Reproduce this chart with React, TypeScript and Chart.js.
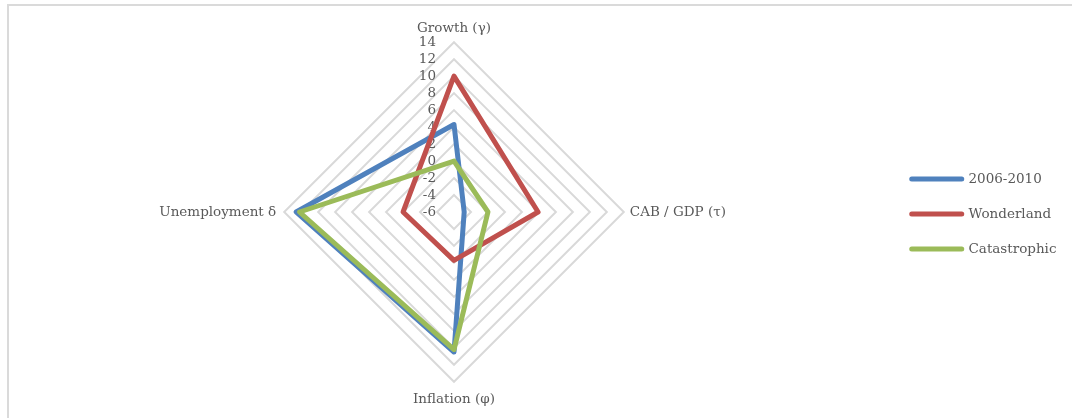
import React, { useEffect, useRef } from 'react';
import { Chart, registerables } from 'chart.js';

Chart.register(...registerables);

// ---- data ----
const categories = ['Growth (γ)', 'CAB / GDP (τ)', 'Inflation (φ)', 'Unemployment δ'];
const seriesNames = ['2006-2010', 'Wonderland', 'Catastrophic'];
const values2006 = [4.3, -4.8, 10.5, 12.6];
const valuesWonderland = [10, 3.9, -0.3, 0];
const valuesCatastrophic = [0, -2, 10.2, 12.2];
const seriesColors = ['#4F81BD', '#C0504D', '#9BBB59'];
const scaleMin = -6;
const scaleMax = 14;
const scaleStep = 2;

const FONT = "'DejaVu Serif', serif";
const TEXT = '#595959';
const FONT_SIZE = 13.5;

const tickLabelPlugin = {
  id: 'tickLabelsLeft',
  beforeDatasetsDraw(chart: any) {
    const s = chart.scales.r;
    const ctx = chart.ctx;
    ctx.save();
    ctx.font = `${FONT_SIZE}px ${FONT}`;
    ctx.fillStyle = TEXT;
    ctx.textAlign = 'right';
    ctx.textBaseline = 'middle';
    s.ticks.forEach((t: any) => {
      const d = s.getDistanceFromCenterForValue(t.value);
      ctx.fillText(String(t.label), s.xCenter - 18, s.yCenter - d);
    });
    ctx.restore();
  },
};

export default function App() {
  const ref = useRef<HTMLCanvasElement>(null);
  useEffect(() => {
    const allValues = [values2006, valuesWonderland, valuesCatastrophic];
    const chart = new Chart(ref.current as HTMLCanvasElement, {
      type: 'radar',
      data: {
        labels: categories,
        datasets: seriesNames.map((name, i) => ({
          label: name,
          data: allValues[i],
          borderColor: seriesColors[i],
          backgroundColor: 'transparent',
          borderWidth: 5,
          fill: false,
          pointRadius: 0,
          pointHoverRadius: 0,
          borderJoinStyle: 'round',
          order: 2 - i,
        })),
      },
      options: {
        animation: false,
        responsive: false,
        layout: { padding: { top: 18, bottom: 8, left: 19, right: 5.5 } },
        plugins: {
          legend: {
            position: 'right',
            align: 'center',
            labels: {
              font: { family: FONT, size: FONT_SIZE },
              color: TEXT,
              usePointStyle: true,
              pointStyle: 'line',
              pointStyleWidth: 50,
              padding: 21.5,
              generateLabels: (c: any) =>
                c.data.datasets.map((ds: any, i: number) => ({
                  text: ds.label,
                  fillStyle: ds.borderColor,
                  strokeStyle: ds.borderColor,
                  lineWidth: 5,
                  lineCap: 'round',
                  pointStyle: 'line',
                  hidden: false,
                  datasetIndex: i,
                  fontColor: TEXT,
                })),
            },
          },
          tooltip: { enabled: false },
        },
        scales: {
          r: {
            min: scaleMin,
            max: scaleMax,
            ticks: { stepSize: scaleStep, display: false },
            grid: { color: '#d9d9d9', lineWidth: 2 },
            angleLines: { display: false },
            pointLabels: {
              font: { family: FONT, size: FONT_SIZE },
              color: TEXT,
              padding: (ctx: any) => [6, 6, 10, 8][ctx.index],
            },
          },
        },
      } as any,
      plugins: [tickLabelPlugin],
    });
    return () => chart.destroy();
  }, []);

  return (
    <div
      style={{
        position: 'absolute',
        left: 0,
        top: 0,
        width: 1072,
        height: 418,
        overflow: 'hidden',
        background: '#fff',
      }}
    >
      <div
        style={{
          position: 'absolute',
          left: 7,
          top: 4,
          width: 1090,
          height: 440,
          border: '2px solid #dadada',
          boxSizing: 'border-box',
        }}
      />
      <canvas
        ref={ref}
        width={1072}
        height={418}
        style={{ position: 'absolute', left: 0, top: 0 }}
      />
    </div>
  );
}
